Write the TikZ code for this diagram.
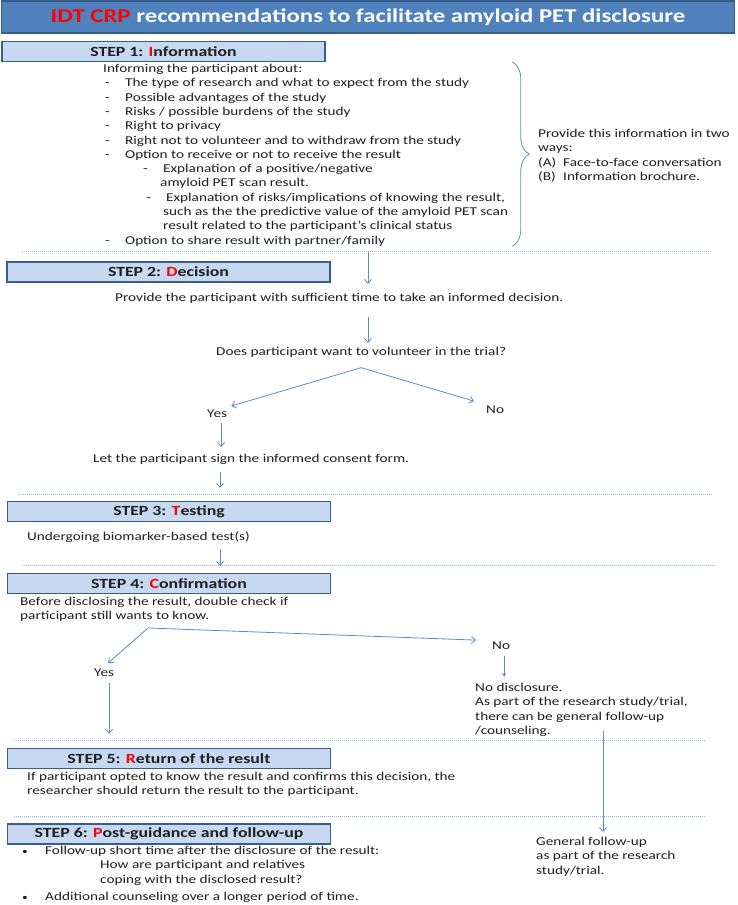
\documentclass[tikz,border=0pt]{standalone}
\usepackage{fontspec}
\setmainfont{Carlito}[FakeStretch=1.27]
\usepackage{xcolor}
\usepackage{tikz}
\usetikzlibrary{arrows.meta}
\usetikzlibrary{decorations.pathreplacing}
\definecolor{titleblue}{RGB}{79,129,189}
\definecolor{edgeblue}{RGB}{56,93,138}
\definecolor{stepblue}{RGB}{198,217,241}
\definecolor{lineblue}{RGB}{90,140,200}
\definecolor{sepblue}{RGB}{149,179,215}
\definecolor{ink}{RGB}{30,30,30}
\newcommand{\Red}[1]{\textcolor{red}{#1}}
\newcommand{\dash}{\makebox[20pt][l]{-}}
\newcommand{\bul}{\makebox[23pt][l]{\fontsize{9}{9}\selectfont\textbullet}}
\tikzset{
  titlebar/.style={draw=edgeblue, line width=1.5pt, fill=titleblue, text=white,
    minimum width=733pt, minimum height=32pt, font=\bfseries\fontsize{19.5}{24}\selectfont}, % title
  stepbox/.style={draw=edgeblue, line width=1.5pt, fill=stepblue, text=ink,
    minimum width=323pt, minimum height=20pt, inner sep=0pt,
    font=\bfseries\fontsize{14}{16}\selectfont}, % step headers
  txt/.style={inner sep=0pt, align=left, text=ink, anchor=north west,
    font=\fontsize{12}{14.3}\selectfont}, % plain text
  flow/.style={draw=lineblue, line width=0.8pt, ->}, % arrows
  sep/.style={draw=sepblue, line width=0.7pt, dash pattern=on 1pt off 1pt}, % separators
  brace/.style={draw=lineblue, line width=0.8pt, decorate, decoration={brace, amplitude=17pt}}
}

\begin{document}
\begin{tikzpicture}[x=1pt, y=-1pt,
>={Straight Barb[length=4pt,width=7pt]} % arrow tips
]
\useasboundingbox (0,0) rectangle (738,905);

%Title
\node[titlebar] (title) at (368,17) {\Red{IDT CRP} recommendations to facilitate amyloid PET disclosure};

%Steps
\node[stepbox] (s1) at (163.5,51.5) {STEP 1: \Red{I}nformation};
\node[stepbox] (s2) at (168.5,272) {STEP 2: \Red{D}ecision};
\node[stepbox] (s3) at (169,511.5) {STEP 3: \Red{T}esting};
\node[stepbox] (s4) at (169,583.5) {STEP 4: \Red{C}onfirmation};
\node[stepbox] (s5) at (169,758.5) {STEP 5: \Red{R}eturn of the result};
\node[stepbox] (s6) at (169,834) {STEP 6: \Red{P}ost-guidance and follow-up};

%Separators
\draw[sep] (22,251) -- (712,251);
\draw[sep] (19,494) -- (712,494);
\draw[sep] (22,565) -- (715,565);
\draw[sep] (14,740) -- (705,740);
\draw[sep] (14,816) -- (705,816);

%Step 1
\node[txt] (info) at (103,64) {Informing the participant about:\\
\hspace*{2pt}\dash The type of research and what to expect from the study\\
\hspace*{2pt}\dash Possible advantages of the study\\
\hspace*{2pt}\dash Risks / possible burdens of the study\\
\hspace*{2pt}\dash Right to privacy\\
\hspace*{2pt}\dash Right not to volunteer and to withdraw from the study\\
\hspace*{2pt}\dash Option to receive or not to receive the result\\
\hspace*{40pt}\dash Explanation of a positive/negative\\
\hspace*{57pt}amyloid PET scan result.\\
\hspace*{43pt}\dash Explanation of risks/implications of knowing the result,\\
\hspace*{60pt}such as the the predictive value of the amyloid PET scan\\
\hspace*{60pt}result related to the participant's clinical status\\
\hspace*{2pt}\dash Option to share result with partner/family};
\node[txt] (ways) at (538,129) {Provide this information in two\\
ways:\\
\makebox[25pt][l]{(A)}Face-to-face conversation\\
\makebox[25pt][l]{(B)}Information brochure.};
\draw[brace] ([xshift=4pt,yshift=2pt]info.north east) -- ([xshift=4pt]info.south east);

%Step 2
\node[txt] (give) at (115,293) {Provide the participant with sufficient time to take an informed decision.};
\node[txt] (ask) at (216,347) {Does participant want to volunteer in the trial?};
\node[txt] (yes1) at (207,410) {Yes};
\node[txt] (no1) at (486,406) {No};
\node[txt] (sign) at (93,454) {Let the participant sign the informed consent form.};

%Step 3
\node[txt] (test) at (27,532) {Undergoing biomarker-based test(s)};

%Step 4
\node[txt] (check) at (20,597) {Before disclosing the result, double check if\\
participant still wants to know.};
\node[txt] (yes2) at (94,669) {Yes};
\node[txt] (no2) at (492,642) {No};
\node[txt] (nodisc) at (475,683) {No disclosure.\\
As part of the research study/trial,\\
there can be general follow-up\\
/counseling.};

%Step 5
\node[txt] (ret) at (27,772) {If participant opted to know the result and confirms this decision, the\\
researcher should return the result to the participant.};

%Step 6
\node[txt] (fu1) at (22,846) {\bul Follow-up short time after the disclosure of the result:\\
\hspace*{78pt}How are participant and relatives\\
\hspace*{78pt}coping with the disclosed result?};
\node[txt] (fu2) at (22,892) {\bul Additional counseling over a longer period of time.};
\node[txt] (gen) at (536,837) {General follow-up\\
as part of the research\\
study/trial.};

%Arrows
\coordinate (in2) at (368,252);
\draw[flow, shorten >=9pt] (in2) -- (in2 |- give.north);
\draw[flow, shorten <=13pt, shorten >=4pt] (in2 |- give.south) -- (in2 |- ask.north);
\coordinate (fork1) at ([yshift=-10pt]ask.south);
\draw[flow] (fork1) -- ([xshift=4pt,yshift=4pt]yes1.north east);
\draw[flow] (fork1) -- ([xshift=-12pt,yshift=9pt]no1.west);
\draw[flow, shorten <=5pt, shorten >=7pt] ([xshift=4pt]yes1.south) -- ([xshift=4pt]yes1.south |- sign.north);
\coordinate (in3) at (220,488);
\draw[flow, shorten <=7pt] (in3 |- sign.south) -- (in3);
\coordinate (in4) at (220,566);
\draw[flow, shorten <=6pt] (in4 |- test.south) -- (in4);
\coordinate (fork2) at ([xshift=128pt,yshift=-6pt]check.south west);
\draw[flow] (fork2) -- ([xshift=4pt,yshift=6pt]yes2.north);
\draw[flow] (fork2) -- ([xshift=-16pt,yshift=6pt]no2.west);
\draw[flow, -{Stealth[length=4pt,width=4pt]}, shorten <=6pt, shorten >=6pt] ([xshift=3pt]no2.south) -- ([xshift=3pt]no2.south |- nodisc.north);
\draw[flow, shorten <=6pt, shorten >=14pt] ([xshift=5pt]yes2.south) -- ([xshift=5pt]yes2.south |- s5.north);
\draw[flow, shorten >=5pt] ([xshift=128pt,yshift=-48pt]nodisc.north west) -- ([xshift=128pt]nodisc.north west |- gen.north);

\end{tikzpicture}
\end{document}
